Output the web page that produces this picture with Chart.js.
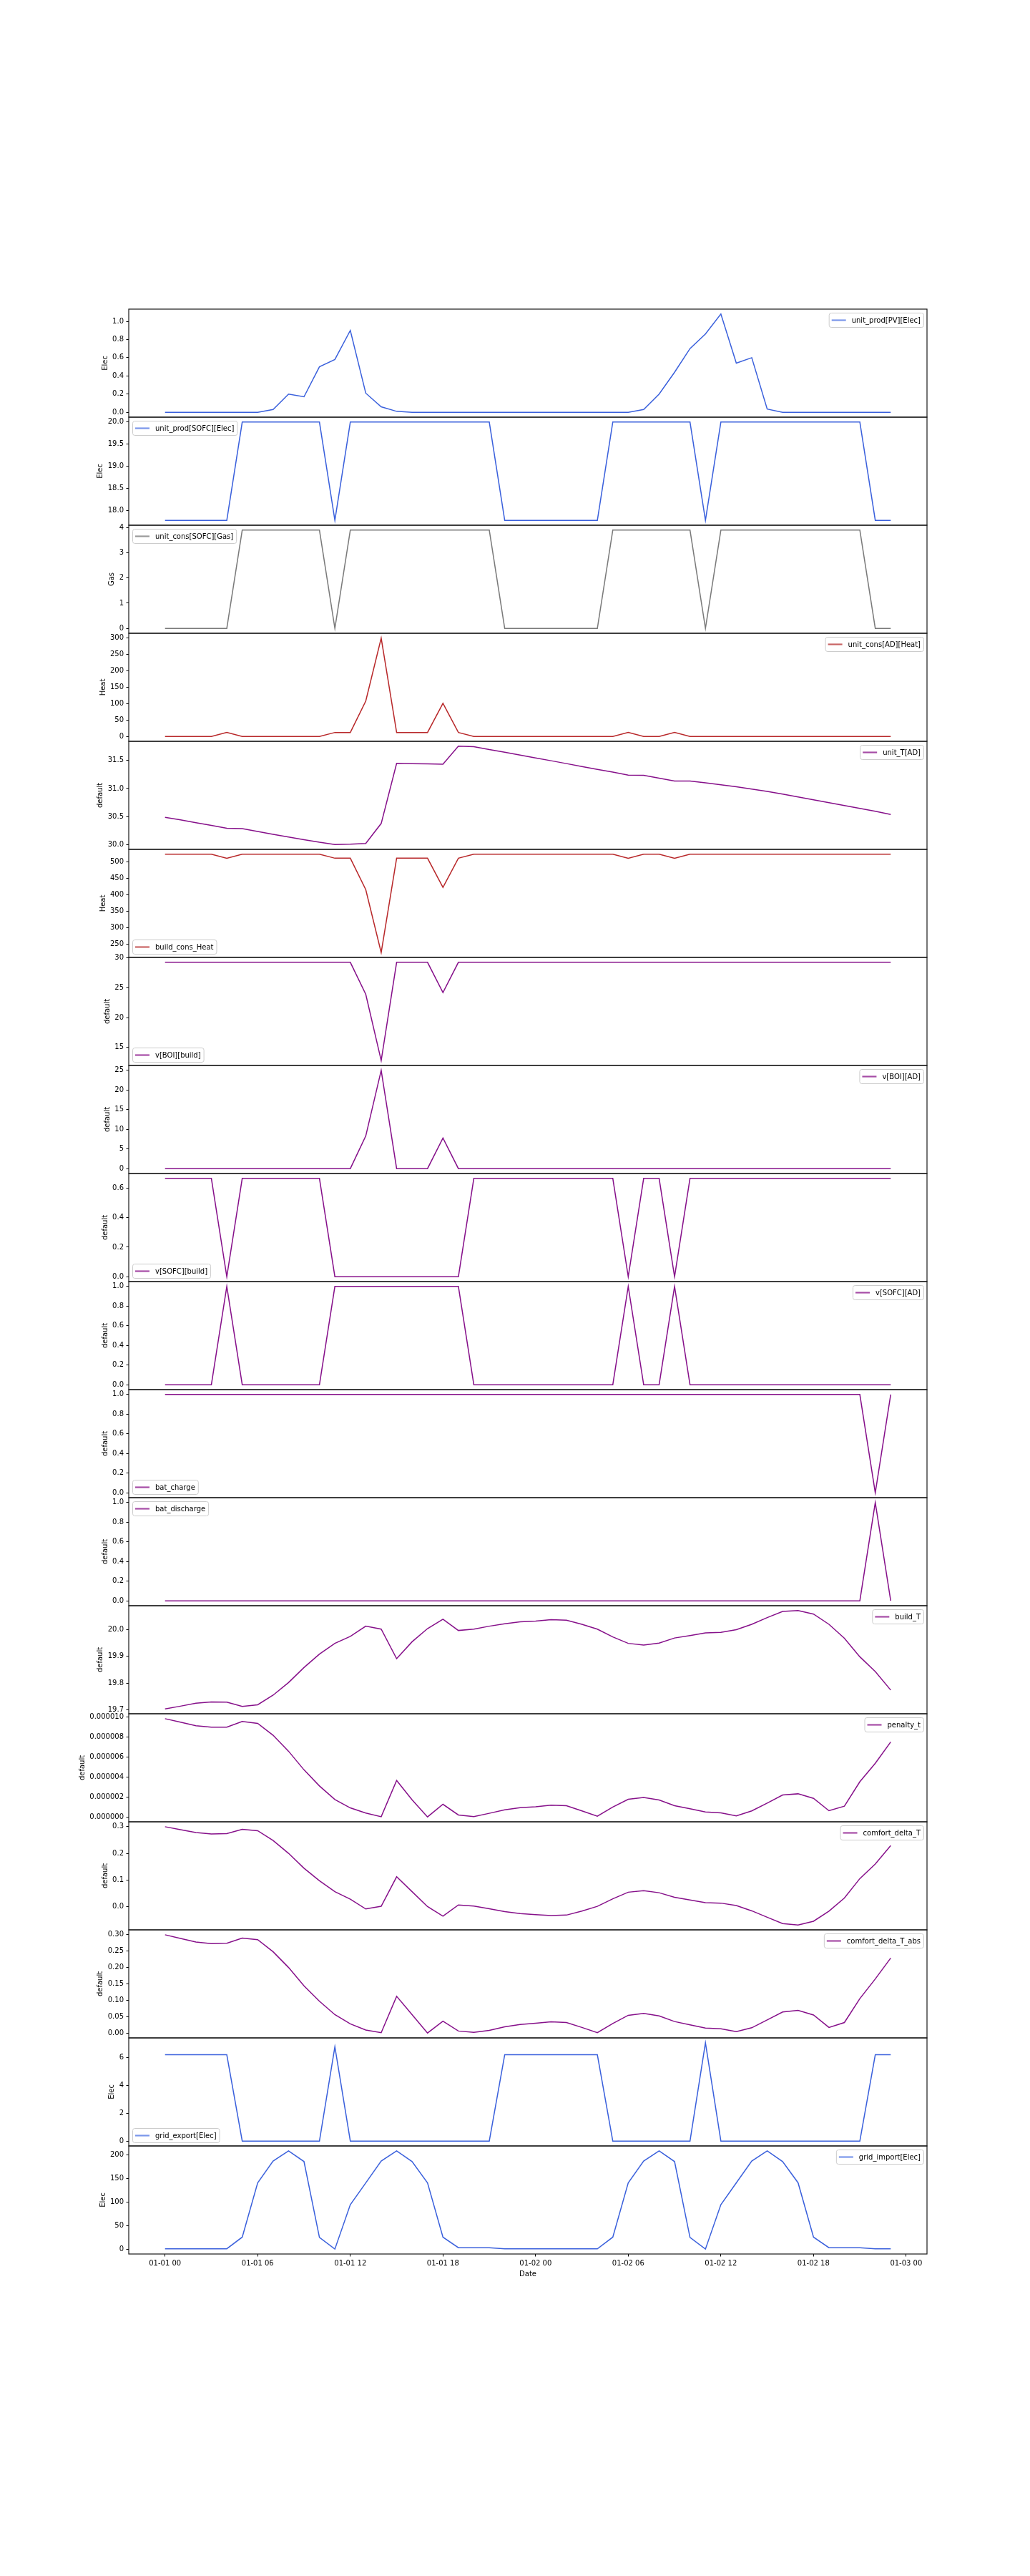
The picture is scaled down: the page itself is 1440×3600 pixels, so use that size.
<!DOCTYPE html>
<html>
<head>
<meta charset="utf-8">
<script src="https://cdn.jsdelivr.net/npm/chart.js@4.4.1/dist/chart.umd.min.js"></script>
<style>
  body { margin: 0; background: #fff; }
  #wrap { position: relative; width: 1440px; height: 3600px; }
  #wrap canvas { position: absolute; left: 0; }
</style>
</head>
<body>
<div id="wrap"></div>
<script>
// Hours from 01-01 00 to 01-02 23
const hours = [0,1,2,3,4,5,6,7,8,9,10,11,12,13,14,15,16,17,18,19,20,21,22,23,
               24,25,26,27,28,29,30,31,32,33,34,35,36,37,38,39,40,41,42,43,44,45,46,47];
const xTickHours = [0, 6, 12, 18, 24, 30, 36, 42, 48];
const xTickLabels = ['01-01 00', '01-01 06', '01-01 12', '01-01 18', '01-02 00', '01-02 06', '01-02 12', '01-02 18', '01-03 00'];

// Series (one value per hour)
const pvElec = [0,0,0,0,0,0,0,0.03,0.20,0.17,0.50,0.58,
                0.90,0.21,0.06,0.01,0,0,0,0,0,0,0,0,
                0,0,0,0,0,0,0,0.03,0.20,0.44,0.70,0.86,
                1.08,0.54,0.60,0.035,0,0,0,0,0,0,0,0];
const sofcElec = [17.78,17.78,17.78,17.78,17.78,20,20,20,20,20,20,17.78,
                  20,20,20,20,20,20,20,20,20,20,17.78,17.78,
                  17.78,17.78,17.78,17.78,17.78,20,20,20,20,20,20,17.78,
                  20,20,20,20,20,20,20,20,20,20,17.78,17.78];
const sofcGas = [0,0,0,0,0,3.9,3.9,3.9,3.9,3.9,3.9,0,
                 3.9,3.9,3.9,3.9,3.9,3.9,3.9,3.9,3.9,3.9,0,0,
                 0,0,0,0,0,3.9,3.9,3.9,3.9,3.9,3.9,0,
                 3.9,3.9,3.9,3.9,3.9,3.9,3.9,3.9,3.9,3.9,0,0];
const adHeat = [0,0,0,0,12,0,0,0,0,0,0,12,
                12,108,300,12,12,12,101,12,0,0,0,0,
                0,0,0,0,0,0,12,0,0,12,0,0,
                0,0,0,0,0,0,0,0,0,0,0,0];
const adTemp = [30.49,30.444,30.393,30.347,30.296,30.288,30.237,30.186,30.14,30.093,30.047,30.008,
                30.013,30.025,30.38,31.446,31.442,31.438,31.43,31.75,31.742,31.69,31.645,31.594,
                31.543,31.493,31.442,31.39,31.34,31.29,31.239,31.235,31.184,31.133,31.133,31.1,
                31.066,31.03,30.99,30.95,30.90,30.85,30.80,30.748,30.698,30.647,30.596,30.54];
const buildHeat = [524,524,524,524,512,524,524,524,524,524,524,512,
                   512,416,224,512,512,512,423,512,524,524,524,524,
                   524,524,524,524,524,524,512,524,524,512,524,524,
                   524,524,524,524,524,524,524,524,524,524,524,524];
const boiBuild = [29.25,29.25,29.25,29.25,29.25,29.25,29.25,29.25,29.25,29.25,29.25,29.25,
                  29.25,23.9,12.8,29.25,29.25,29.25,24.2,29.25,29.25,29.25,29.25,29.25,
                  29.25,29.25,29.25,29.25,29.25,29.25,29.25,29.25,29.25,29.25,29.25,29.25,
                  29.25,29.25,29.25,29.25,29.25,29.25,29.25,29.25,29.25,29.25,29.25,29.25];
const boiAD = [0,0,0,0,0,0,0,0,0,0,0,0,
               0,8.3,25,0,0,0,7.8,0,0,0,0,0,
               0,0,0,0,0,0,0,0,0,0,0,0,
               0,0,0,0,0,0,0,0,0,0,0,0];
const sofcBuild = [0.667,0.667,0.667,0.667,0,0.667,0.667,0.667,0.667,0.667,0.667,0,
                   0,0,0,0,0,0,0,0,0.667,0.667,0.667,0.667,
                   0.667,0.667,0.667,0.667,0.667,0.667,0,0.667,0.667,0,0.667,0.667,
                   0.667,0.667,0.667,0.667,0.667,0.667,0.667,0.667,0.667,0.667,0.667,0.667];
const sofcAD = [0,0,0,0,1,0,0,0,0,0,0,1,
                1,1,1,1,1,1,1,1,0,0,0,0,
                0,0,0,0,0,0,1,0,0,1,0,0,
                0,0,0,0,0,0,0,0,0,0,0,0];
const batCharge = [1,1,1,1,1,1,1,1,1,1,1,1,
                   1,1,1,1,1,1,1,1,1,1,1,1,
                   1,1,1,1,1,1,1,1,1,1,1,1,
                   1,1,1,1,1,1,1,1,1,1,0,1];
const batDischarge = [0,0,0,0,0,0,0,0,0,0,0,0,
                      0,0,0,0,0,0,0,0,0,0,0,0,
                      0,0,0,0,0,0,0,0,0,0,0,0,
                      0,0,0,0,0,0,0,0,0,0,1,0];
const buildT = [19.704,19.714,19.725,19.730,19.729,19.713,19.719,19.755,19.802,19.858,19.908,19.948,
                19.974,20.012,20.001,19.891,19.954,20.003,20.038,19.996,20.001,20.012,20.021,20.028,
                20.031,20.036,20.034,20.019,20.001,19.972,19.948,19.942,19.949,19.968,19.977,19.987,
                19.989,19.999,20.019,20.044,20.067,20.070,20.057,20.019,19.967,19.898,19.843,19.774];
const penaltyT = [9.83e-6,9.48e-6,9.12e-6,8.98e-6,8.98e-6,9.55e-6,9.36e-6,8.17e-6,6.57e-6,4.71e-6,3.10e-6,1.74e-6,
                  0.90e-6,0.38e-6,0.02e-6,3.64e-6,1.71e-6,0,1.26e-6,0.19e-6,0.02e-6,0.36e-6,0.71e-6,0.93e-6,
                  1.02e-6,1.17e-6,1.12e-6,0.60e-6,0.07e-6,0.98e-6,1.76e-6,1.95e-6,1.69e-6,1.12e-6,0.81e-6,0.50e-6,
                  0.40e-6,0.10e-6,0.60e-6,1.38e-6,2.19e-6,2.31e-6,1.86e-6,0.62e-6,1.07e-6,3.52e-6,5.36e-6,7.50e-6];
const comfortDT = [0.300,0.289,0.278,0.273,0.274,0.290,0.285,0.248,0.200,0.144,0.097,0.056,
                   0.028,-0.009,0.001,0.112,0.056,0.0,-0.036,0.006,0.002,-0.008,-0.019,-0.026,
                   -0.030,-0.034,-0.032,-0.017,0.001,0.029,0.054,0.060,0.052,0.035,0.025,0.015,
                   0.013,0.004,-0.016,-0.040,-0.064,-0.069,-0.055,-0.017,0.032,0.105,0.160,0.229];
const comfortAbs = [0.300,0.289,0.278,0.273,0.274,0.290,0.285,0.248,0.200,0.144,0.097,0.056,
                    0.028,0.009,0.001,0.112,0.056,0.0,0.036,0.006,0.002,0.008,0.019,0.026,
                    0.030,0.034,0.032,0.017,0.001,0.029,0.054,0.060,0.052,0.035,0.025,0.015,
                    0.013,0.004,0.016,0.040,0.064,0.069,0.055,0.017,0.032,0.105,0.165,0.229];
const gridExport = [6.19,6.19,6.19,6.19,6.19,0,0,0,0,0,0,6.77,
                    0,0,0,0,0,0,0,0,0,0,6.19,6.19,
                    6.19,6.19,6.19,6.19,6.19,0,0,0,0,0,0,7.05,
                    0,0,0,0,0,0,0,0,0,0,6.19,6.19];
const gridImport = [1.2,1.2,1.2,1.2,1.2,25.8,141,187,208.6,186,25.3,0.5,
                    94.7,140.8,187,208.6,186,140.8,25.8,3.5,3.5,3.5,1.0,1.0,
                    1.0,1.0,1.0,1.0,1.0,25.8,141,187,208.6,186,25.3,0.5,
                    94.7,141,187,208.6,186,141,25.8,3.5,3.5,3.5,1.0,1.0];

const series = [pvElec, sofcElec, sofcGas, adHeat, adTemp, buildHeat, boiBuild, boiAD, sofcBuild,
                sofcAD, batCharge, batDischarge, buildT, penaltyT, comfortDT, comfortAbs, gridExport, gridImport];
const names = ['unit_prod[PV][Elec]', 'unit_prod[SOFC][Elec]', 'unit_cons[SOFC][Gas]', 'unit_cons[AD][Heat]',
               'unit_T[AD]', 'build_cons_Heat', 'v[BOI][build]', 'v[BOI][AD]', 'v[SOFC][build]', 'v[SOFC][AD]',
               'bat_charge', 'bat_discharge', 'build_T', 'penalty_t', 'comfort_delta_T', 'comfort_delta_T_abs',
               'grid_export[Elec]', 'grid_import[Elec]'];
const yLabels = ['Elec', 'Elec', 'Gas', 'Heat', 'default', 'Heat', 'default', 'default', 'default', 'default',
                 'default', 'default', 'default', 'default', 'default', 'default', 'Elec', 'Elec'];
const legendLocs = ['ur', 'ul', 'ul', 'ur', 'ur', 'll', 'll', 'ur', 'll', 'ur',
                    'll', 'ul', 'ur', 'ur', 'ur', 'ur', 'll', 'ur'];
const yTicks = [
  [0, 0.2, 0.4, 0.6, 0.8, 1.0],
  [18, 18.5, 19, 19.5, 20],
  [0, 1, 2, 3, 4],
  [0, 50, 100, 150, 200, 250, 300],
  [30, 30.5, 31, 31.5],
  [250, 300, 350, 400, 450, 500],
  [15, 20, 25, 30],
  [0, 5, 10, 15, 20, 25],
  [0, 0.2, 0.4, 0.6],
  [0, 0.2, 0.4, 0.6, 0.8, 1.0],
  [0, 0.2, 0.4, 0.6, 0.8, 1.0],
  [0, 0.2, 0.4, 0.6, 0.8, 1.0],
  [19.7, 19.8, 19.9, 20.0],
  [0, 2e-6, 4e-6, 6e-6, 8e-6, 1e-5],
  [0, 0.1, 0.2, 0.3],
  [0, 0.05, 0.10, 0.15, 0.20, 0.25, 0.30],
  [0, 2, 4, 6],
  [0, 50, 100, 150, 200]
];
const yDecimals = [1, 1, 0, 0, 1, 0, 0, 0, 1, 1, 1, 1, 1, 6, 1, 2, 0, 0];

// line colour, legend handle colour
const BLUE = ['#3a60dc', 'rgba(65,105,225,0.7)'];
const GRAY = ['#7a7a7a', 'rgba(110,110,110,0.7)'];
const RED = ['#b8282a', 'rgba(178,34,34,0.7)'];
const PURPLE = ['#86108a', 'rgba(128,0,128,0.7)'];
const colors = [BLUE, BLUE, GRAY, RED, PURPLE, RED, PURPLE, PURPLE, PURPLE, PURPLE,
                PURPLE, PURPLE, PURPLE, PURPLE, PURPLE, PURPLE, BLUE, BLUE];

// Layout of the axes grid
const LEFT = 180, RIGHT = 1296, TOP = 432, SUB_H = 151, PAD = 20;
const X_MIN = -2.35, X_MAX = 49.35;

Chart.defaults.font.family = '"DejaVu Sans", sans-serif';
Chart.defaults.font.size = 10;
Chart.defaults.color = '#000';

// Frame around each axes (matplotlib spines)
const framePlugin = {
  id: 'frame',
  afterDatasetsDraw(chart) {
    const a = chart.chartArea, ctx = chart.ctx;
    ctx.save();
    ctx.strokeStyle = '#1a1a1a';
    ctx.lineWidth = 1.2;
    ctx.strokeRect(a.left, a.top, a.right - a.left, a.bottom - a.top);
    ctx.restore();
  }
};

// Matplotlib-like legend inside the axes
const legendPlugin = {
  id: 'mplLegend',
  afterDraw(chart, args, opts) {
    const {ctx, chartArea: a} = chart;
    const ds = chart.data.datasets[0];
    ctx.save();
    ctx.font = '10px "DejaVu Sans"';
    const tw = ctx.measureText(ds.label).width;
    const w = tw + 36, h = 20;
    const x = opts.loc[1] === 'r' ? a.right - 5 - w : a.left + 5;
    const y = opts.loc[0] === 'u' ? a.top + 5 : a.bottom - 5 - h;
    ctx.beginPath();
    ctx.roundRect(x + 0.5, y + 0.5, w, h, 3);
    ctx.fillStyle = 'rgba(255,255,255,0.8)';
    ctx.fill();
    ctx.strokeStyle = '#cccccc';
    ctx.lineWidth = 1;
    ctx.stroke();
    ctx.beginPath();
    ctx.moveTo(x + 4, y + h / 2 + 0.5);
    ctx.lineTo(x + 24, y + h / 2 + 0.5);
    ctx.strokeStyle = opts.handle;
    ctx.lineWidth = 2.2;
    ctx.stroke();
    ctx.fillStyle = '#000';
    ctx.textBaseline = 'middle';
    ctx.fillText(ds.label, x + 32, y + h / 2 + 1);
    ctx.restore();
  }
};

function limits(arr) {
  const lo = Math.min(...arr), hi = Math.max(...arr);
  const m = (hi - lo) * 0.05;
  return [lo - m, hi + m];
}

const wrap = document.getElementById('wrap');

series.forEach((vals, i) => {
  const isLast = i === series.length - 1;
  const canvas = document.createElement('canvas');
  const height = PAD + SUB_H + (isLast ? 70 : PAD);
  canvas.width = 1440;
  canvas.height = height;
  canvas.style.top = (TOP + i * SUB_H - PAD) + 'px';
  wrap.appendChild(canvas);

  const [yMin, yMax] = limits(vals);
  const chart = new Chart(canvas, {
    type: 'line',
    data: {
      datasets: [{
        label: names[i],
        data: hours.map((h, k) => ({x: h, y: vals[k]})),
        borderColor: colors[i][0],
        borderWidth: 1.5,
        pointRadius: 0,
        tension: 0,
        fill: false
      }]
    },
    options: {
      responsive: false,
      animation: false,
      devicePixelRatio: 1,
      layout: { padding: { left: 0, right: 1440 - RIGHT, top: PAD, bottom: isLast ? 0 : PAD } },
      plugins: {
        legend: { display: false },
        tooltip: { enabled: false },
        mplLegend: { loc: legendLocs[i], handle: colors[i][1] }
      },
      scales: {
        x: {
          type: 'linear',
          min: X_MIN,
          max: X_MAX,
          display: isLast,
          afterBuildTicks: s => { s.ticks = xTickHours.map(v => ({value: v})); },
          ticks: {
            autoSkip: false,
            maxRotation: 0,
            padding: 3.5,
            callback: v => xTickLabels[xTickHours.indexOf(v)]
          },
          grid: { drawOnChartArea: false, tickLength: 3.5, color: '#000', lineWidth: 1 },
          border: { display: false },
          title: { display: true, text: 'Date', padding: { top: 0, bottom: 0 } }
        },
        y: {
          min: yMin,
          max: yMax,
          afterBuildTicks: s => { s.ticks = yTicks[i].map(v => ({value: v})); },
          ticks: {
            padding: 3.5,
            callback: v => Number(v).toFixed(yDecimals[i])
          },
          grid: { drawOnChartArea: false, tickLength: 3.5, color: '#000', lineWidth: 1 },
          border: { display: false },
          title: { display: true, text: yLabels[i], padding: { top: 0, bottom: 0.5 } }
        }
      }
    },
    plugins: [framePlugin, legendPlugin]
  });

  // Second pass: pin the plot area to the shared grid
  const a = chart.chartArea;
  const p = chart.config.options.layout.padding;
  chart.config.options.layout.padding = {
    left: p.left + (LEFT - a.left),
    right: p.right + (a.right - RIGHT),
    top: p.top + (PAD - a.top),
    bottom: p.bottom + (a.bottom - (PAD + SUB_H))
  };
  chart.update();
});
</script>
</body>
</html>
